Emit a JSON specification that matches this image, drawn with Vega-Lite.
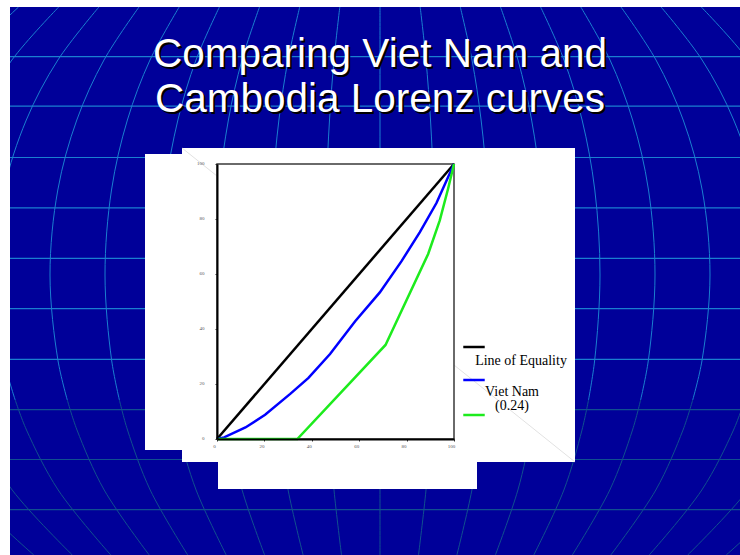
{
  "$schema": "https://vega.github.io/schema/vega-lite/v6.json",
  "width": 237,
  "height": 275,
  "autosize": {"type": "none"},
  "padding": {"left": 217, "top": 164, "right": 286, "bottom": 116},
  "background": "#000099",
  "config": {"view": {"stroke": null}},
  "datasets": {
    "meridians": [
      {"m": -9, "p": "u", "sx": [18.6, -34.1, -74.8, -103.3, -115, -103.2, -89.1], "sy": [7, 60, 120, 190, 275, 360, 400]},
      {"m": -8, "p": "u", "sx": [58.7, 11.9, -24.2, -49.6, -60, -49.5, -36.9], "sy": [7, 60, 120, 190, 275, 360, 400]},
      {"m": -7, "p": "u", "sx": [98.9, 57.9, 26.3, 4.1, -5, 4.2, 15.2], "sy": [7, 60, 120, 190, 275, 360, 400]},
      {"m": -6, "p": "u", "sx": [139.0, 104.0, 76.8, 57.8, 50, 57.9, 67.3], "sy": [7, 60, 120, 190, 275, 360, 400]},
      {"m": -5, "p": "u", "sx": [179.2, 150.0, 127.4, 111.5, 105, 111.6, 119.4], "sy": [7, 60, 120, 190, 275, 360, 400]},
      {"m": -4, "p": "u", "sx": [219.4, 196.0, 177.9, 165.2, 160, 165.3, 171.5], "sy": [7, 60, 120, 190, 275, 360, 400]},
      {"m": -3, "p": "u", "sx": [259.5, 242.0, 228.4, 218.9, 215, 218.9, 223.6], "sy": [7, 60, 120, 190, 275, 360, 400]},
      {"m": -2, "p": "u", "sx": [299.7, 288.0, 278.9, 272.6, 270, 272.6, 275.8], "sy": [7, 60, 120, 190, 275, 360, 400]},
      {"m": -1, "p": "u", "sx": [339.8, 334.0, 329.5, 326.3, 325, 326.3, 327.9], "sy": [7, 60, 120, 190, 275, 360, 400]},
      {"m": 0, "p": "u", "sx": [380, 380, 380, 380, 380, 380, 380], "sy": [7, 60, 120, 190, 275, 360, 400]},
      {"m": 1, "p": "u", "sx": [420.2, 426.0, 430.5, 433.7, 435, 433.7, 432.1], "sy": [7, 60, 120, 190, 275, 360, 400]},
      {"m": 2, "p": "u", "sx": [460.3, 472.0, 481.1, 487.4, 490, 487.4, 484.2], "sy": [7, 60, 120, 190, 275, 360, 400]},
      {"m": 3, "p": "u", "sx": [500.5, 518.0, 531.6, 541.1, 545, 541.1, 536.4], "sy": [7, 60, 120, 190, 275, 360, 400]},
      {"m": 4, "p": "u", "sx": [540.6, 564.0, 582.1, 594.8, 600, 594.7, 588.5], "sy": [7, 60, 120, 190, 275, 360, 400]},
      {"m": 5, "p": "u", "sx": [580.8, 610.0, 632.6, 648.5, 655, 648.4, 640.6], "sy": [7, 60, 120, 190, 275, 360, 400]},
      {"m": 6, "p": "u", "sx": [621.0, 656.0, 683.2, 702.2, 710, 702.1, 692.7], "sy": [7, 60, 120, 190, 275, 360, 400]},
      {"m": 7, "p": "u", "sx": [661.1, 702.1, 733.7, 755.9, 765, 755.8, 744.8], "sy": [7, 60, 120, 190, 275, 360, 400]},
      {"m": 8, "p": "u", "sx": [701.3, 748.1, 784.2, 809.6, 820, 809.5, 796.9], "sy": [7, 60, 120, 190, 275, 360, 400]},
      {"m": -9, "p": "l", "sx": [-89.1, -74.5, -33.7, 33.8], "sy": [400, 430, 490, 555]},
      {"m": -8, "p": "l", "sx": [-36.9, -24.0, 12.2, 72.3], "sy": [400, 430, 490, 555]},
      {"m": -7, "p": "l", "sx": [15.2, 26.5, 58.2, 110.8], "sy": [400, 430, 490, 555]},
      {"m": -6, "p": "l", "sx": [67.3, 77.0, 104.2, 149.2], "sy": [400, 430, 490, 555]},
      {"m": -5, "p": "l", "sx": [119.4, 127.5, 150.2, 187.7], "sy": [400, 430, 490, 555]},
      {"m": -4, "p": "l", "sx": [171.5, 178.0, 196.1, 226.2], "sy": [400, 430, 490, 555]},
      {"m": -3, "p": "l", "sx": [223.6, 228.5, 242.1, 264.6], "sy": [400, 430, 490, 555]},
      {"m": -2, "p": "l", "sx": [275.8, 279.0, 288.1, 303.1], "sy": [400, 430, 490, 555]},
      {"m": -1, "p": "l", "sx": [327.9, 329.5, 334.0, 341.5], "sy": [400, 430, 490, 555]},
      {"m": 0, "p": "l", "sx": [380, 380, 380, 380], "sy": [400, 430, 490, 555]},
      {"m": 1, "p": "l", "sx": [432.1, 430.5, 426.0, 418.5], "sy": [400, 430, 490, 555]},
      {"m": 2, "p": "l", "sx": [484.2, 481.0, 471.9, 456.9], "sy": [400, 430, 490, 555]},
      {"m": 3, "p": "l", "sx": [536.4, 531.5, 517.9, 495.4], "sy": [400, 430, 490, 555]},
      {"m": 4, "p": "l", "sx": [588.5, 582.0, 563.9, 533.8], "sy": [400, 430, 490, 555]},
      {"m": 5, "p": "l", "sx": [640.6, 632.5, 609.8, 572.3], "sy": [400, 430, 490, 555]},
      {"m": 6, "p": "l", "sx": [692.7, 683.0, 655.8, 610.8], "sy": [400, 430, 490, 555]},
      {"m": 7, "p": "l", "sx": [744.8, 733.5, 701.8, 649.2], "sy": [400, 430, 490, 555]},
      {"m": 8, "p": "l", "sx": [796.9, 784.0, 747.8, 687.7], "sy": [400, 430, 490, 555]},
      {"m": 9, "p": "l", "sx": [849.1, 834.5, 793.7, 726.2], "sy": [400, 430, 490, 555]}
    ],
    "parallels": [
      {"sy": 56.6, "p": "u"}, {"sy": 106.2, "p": "u"}, {"sy": 157.5, "p": "u"},
      {"sy": 207.8, "p": "u"}, {"sy": 258.4, "p": "u"}, {"sy": 308.7, "p": "u"},
      {"sy": 359.3, "p": "u"}, {"sy": 409.6, "p": "l"}, {"sy": 459.5, "p": "l"},
      {"sy": 509.7, "p": "l"}
    ],
    "sheets": [
      {"kind": "margin", "x1": 0, "x2": 10, "y1": 0, "y2": 555},
      {"kind": "margin", "x1": 0, "x2": 740, "y1": 0, "y2": 7},
      {"kind": "panel", "x1": 145, "x2": 183, "y1": 154, "y2": 450},
      {"kind": "panel", "x1": 182, "x2": 575, "y1": 148, "y2": 462},
      {"kind": "panel", "x1": 218, "x2": 477, "y1": 461, "y2": 489}
    ],
    "diagonal": [
      {"x1": 182, "y1": 148, "x2": 217, "y2": 176},
      {"x1": 454, "y1": 365, "x2": 575, "y2": 462}
    ],
    "heading": [
      {"t": ["Comparing Viet Nam and", "Cambodia Lorenz curves"]}
    ],
    "lorenz": [
      {"series": "Line of Equality", "pop": 0, "inc": 0},
      {"series": "Line of Equality", "pop": 100, "inc": 100},
      {"series": "Viet Nam", "pop": 0, "inc": 0},
      {"series": "Viet Nam", "pop": 3, "inc": 0.6},
      {"series": "Viet Nam", "pop": 12, "inc": 4.2},
      {"series": "Viet Nam", "pop": 20.3, "inc": 8.8},
      {"series": "Viet Nam", "pop": 30.9, "inc": 16.4},
      {"series": "Viet Nam", "pop": 38.6, "inc": 22.2},
      {"series": "Viet Nam", "pop": 47.7, "inc": 30.9},
      {"series": "Viet Nam", "pop": 58.3, "inc": 42.8},
      {"series": "Viet Nam", "pop": 68.7, "inc": 53.3},
      {"series": "Viet Nam", "pop": 77.8, "inc": 64.6},
      {"series": "Viet Nam", "pop": 85.6, "inc": 75.2},
      {"series": "Viet Nam", "pop": 92.6, "inc": 85.8},
      {"series": "Viet Nam", "pop": 100, "inc": 100},
      {"series": "Cambodia", "pop": 0, "inc": 0},
      {"series": "Cambodia", "pop": 33.9, "inc": 0},
      {"series": "Cambodia", "pop": 71.1, "inc": 34.2},
      {"series": "Cambodia", "pop": 89.1, "inc": 67.3},
      {"series": "Cambodia", "pop": 94, "inc": 79.5},
      {"series": "Cambodia", "pop": 97.5, "inc": 91},
      {"series": "Cambodia", "pop": 100, "inc": 100}
    ]
  },
  "layer": [
    {
      "layer": [
        {
          "data": {"name": "meridians"},
          "transform": [{"filter": "datum.p == 'u'"}, {"flatten": ["sx", "sy"]}],
          "mark": {"type": "line", "stroke": "#1a7fd0", "strokeWidth": 1, "interpolate": "catmull-rom"},
          "encoding": {
            "x": {"field": "sx", "type": "quantitative", "scale": {"domain": [0, 740], "range": [-217, 523], "nice": false, "zero": false}, "axis": null},
            "y": {"field": "sy", "type": "quantitative", "scale": {"domain": [0, 555], "range": [-164, 391], "nice": false, "zero": false}, "axis": null},
            "detail": {"field": "m", "type": "nominal"},
            "order": {"field": "sy", "type": "quantitative"}
          }
        },
        {
          "data": {"name": "meridians"},
          "transform": [{"filter": "datum.p == 'l'"}, {"flatten": ["sx", "sy"]}],
          "mark": {"type": "line", "stroke": "#10508f", "strokeWidth": 1, "interpolate": "catmull-rom"},
          "encoding": {
            "x": {"field": "sx", "type": "quantitative", "scale": {"domain": [0, 740], "range": [-217, 523], "nice": false, "zero": false}, "axis": null},
            "y": {"field": "sy", "type": "quantitative", "scale": {"domain": [0, 555], "range": [-164, 391], "nice": false, "zero": false}, "axis": null},
            "detail": {"field": "m", "type": "nominal"},
            "order": {"field": "sy", "type": "quantitative"}
          }
        },
        {
          "data": {"name": "parallels"},
          "mark": {"type": "rule", "strokeWidth": 1.2},
          "encoding": {
            "x": {"datum": 10, "type": "quantitative", "scale": {"domain": [0, 740], "range": [-217, 523], "nice": false, "zero": false}, "axis": null},
            "x2": {"datum": 740},
            "y": {"field": "sy", "type": "quantitative", "scale": {"domain": [0, 555], "range": [-164, 391], "nice": false, "zero": false}, "axis": null},
            "color": {"condition": {"test": "datum.p == 'u'", "value": "#1a7fd0"}, "value": "#10508f"}
          }
        },
        {
          "data": {"name": "sheets"},
          "mark": {"type": "rect", "fill": "white"},
          "encoding": {
            "x": {"field": "x1", "type": "quantitative", "scale": {"domain": [0, 740], "range": [-217, 523], "nice": false, "zero": false}, "axis": null},
            "x2": {"field": "x2"},
            "y": {"field": "y1", "type": "quantitative", "scale": {"domain": [0, 555], "range": [-164, 391], "nice": false, "zero": false}, "axis": null},
            "y2": {"field": "y2"}
          }
        },
        {
          "data": {"name": "diagonal"},
          "mark": {"type": "rule", "stroke": "#e2e2e2", "strokeWidth": 1},
          "encoding": {
            "x": {"field": "x1", "type": "quantitative", "scale": {"domain": [0, 740], "range": [-217, 523], "nice": false, "zero": false}, "axis": null},
            "x2": {"field": "x2"},
            "y": {"field": "y1", "type": "quantitative", "scale": {"domain": [0, 555], "range": [-164, 391], "nice": false, "zero": false}, "axis": null},
            "y2": {"field": "y2"}
          }
        },
        {
          "data": {"name": "heading"},
          "mark": {"type": "text", "font": "Liberation Sans", "fontSize": 40.5, "lineHeight": 45, "align": "center", "baseline": "alphabetic", "color": "#000000", "dx": 2, "dy": 2},
          "encoding": {
            "x": {"datum": 380, "type": "quantitative", "scale": {"domain": [0, 740], "range": [-217, 523], "nice": false, "zero": false}, "axis": null},
            "y": {"datum": 67, "type": "quantitative", "scale": {"domain": [0, 555], "range": [-164, 391], "nice": false, "zero": false}, "axis": null},
            "text": {"field": "t"}
          }
        },
        {
          "data": {"name": "heading"},
          "mark": {"type": "text", "font": "Liberation Sans", "fontSize": 40.5, "lineHeight": 45, "align": "center", "baseline": "alphabetic", "color": "#ffffff"},
          "encoding": {
            "x": {"datum": 380, "type": "quantitative", "scale": {"domain": [0, 740], "range": [-217, 523], "nice": false, "zero": false}, "axis": null},
            "y": {"datum": 67, "type": "quantitative", "scale": {"domain": [0, 555], "range": [-164, 391], "nice": false, "zero": false}, "axis": null},
            "text": {"field": "t"}
          }
        }
      ]
    },
    {
      "layer": [
        {
          "data": {"values": [{}]},
          "mark": {"type": "rect", "fill": null, "stroke": "#3a3a3a", "strokeWidth": 1.5},
          "encoding": {
            "x": {"datum": 0, "type": "quantitative", "scale": {"domain": [0, 100], "nice": false}},
            "x2": {"datum": 100},
            "y": {"datum": 0, "type": "quantitative", "scale": {"domain": [0, 100], "nice": false}},
            "y2": {"datum": 100}
          }
        },
        {
          "data": {"name": "lorenz"},
          "mark": {"type": "line", "strokeWidth": 2.5},
          "encoding": {
            "x": {
              "field": "pop", "type": "quantitative",
              "scale": {"domain": [0, 100], "nice": false},
              "axis": {"orient": "bottom", "values": [0, 20, 40, 60, 80, 100], "title": null, "grid": false, "domainColor": "#000000", "domainWidth": 2, "tickColor": "#333333", "tickSize": 2, "tickWidth": 1, "labelFont": "Liberation Serif", "labelFontSize": 5, "labelColor": "#555555", "labelPadding": 2, "labelOffset": -3, "labelFlush": false, "zindex": 1}
            },
            "y": {
              "field": "inc", "type": "quantitative",
              "scale": {"domain": [0, 100], "nice": false},
              "axis": {"orient": "left", "values": [0, 20, 40, 60, 80, 100], "title": null, "grid": false, "domainColor": "#000000", "domainWidth": 2, "tickColor": "#333333", "tickSize": 2, "tickWidth": 1, "labelFont": "Liberation Serif", "labelFontSize": 5, "labelColor": "#555555", "labelPadding": 11, "labelBaseline": "alphabetic", "labelFlush": false, "zindex": 1}
            },
            "color": {
              "field": "series", "type": "nominal",
              "scale": {"domain": ["Line of Equality", "Viet Nam", "Cambodia"], "range": ["#000000", "#0000ff", "#1deb1d"]},
              "legend": {
                "orient": "none", "legendX": 245, "legendY": 171, "title": null, "padding": 0,
                "symbolType": "stroke", "symbolSize": 460, "symbolStrokeWidth": 2.5,
                "labelFont": "Liberation Serif", "labelFontSize": 14, "labelColor": "#000000",
                "labelAlign": "center", "labelOffset": 32, "labelBaseline": "line-top",
                "labelLimit": 0, "rowPadding": 0,
                "labelExpr": "datum.label == 'Cambodia' ? '(0.24)' : datum.label",
                "encode": {
                  "labels": {
                    "update": {
                      "dy": {"signal": "datum.value == 'Line of Equality' ? 6 : (datum.value == 'Viet Nam' ? 4 : -17)"},
                      "dx": {"signal": "datum.value == 'Line of Equality' ? 3 : -6"}
                    }
                  }
                }
              }
            },
            "order": {"field": "pop", "type": "quantitative"}
          }
        }
      ]
    }
  ],
  "resolve": {"scale": {"x": "independent", "y": "independent"}}
}
